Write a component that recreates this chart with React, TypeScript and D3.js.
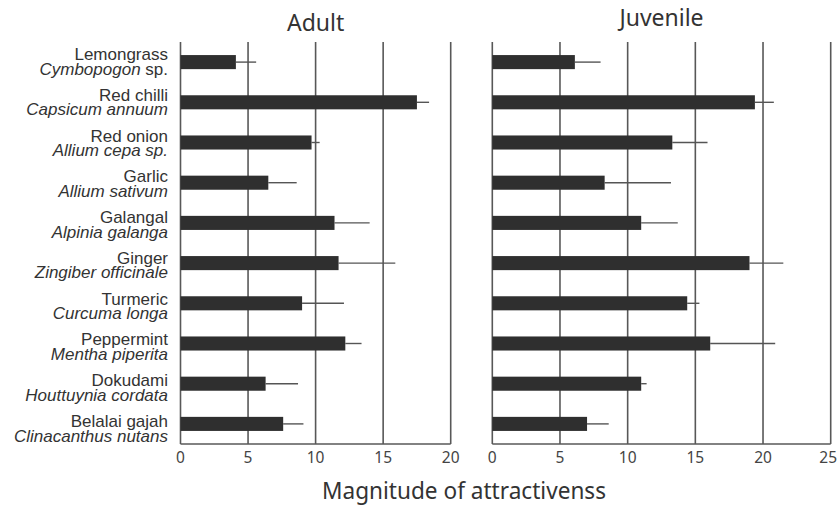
import React from 'react';
import * as d3 from 'd3';

// plant names (common / scientific)
const plants = ['Lemongrass', 'Red chilli', 'Red onion', 'Garlic', 'Galangal', 'Ginger', 'Turmeric', 'Peppermint', 'Dokudami', 'Belalai gajah'];
const species = ['Cymbopogon', 'Capsicum annuum', 'Allium cepa sp.', 'Allium sativum', 'Alpinia galanga', 'Zingiber officinale', 'Curcuma longa', 'Mentha piperita', 'Houttuynia cordata', 'Clinacanthus nutans'];

// values
const adultMean = [4.1, 17.5, 9.7, 6.5, 11.4, 11.7, 9.0, 12.2, 6.3, 7.6];
const adultUpper = [5.6, 18.4, 10.3, 8.6, 14.0, 15.9, 12.1, 13.4, 8.7, 9.1];
const juvMean = [6.1, 19.4, 13.3, 8.3, 11.0, 19.0, 14.4, 16.1, 11.0, 7.0];
const juvUpper = [8.0, 20.8, 15.9, 13.2, 13.7, 21.5, 15.3, 20.9, 11.4, 8.6];

const adultTicks = [0, 5, 10, 15, 20];
const juvTicks = [0, 5, 10, 15, 20, 25];

const TOP = 42;
const BOTTOM = 444;
const WIDTH = 838;

const y = d3.scaleBand<string>().domain(plants).range([TOP, BOTTOM]).paddingInner(0.65).paddingOuter(0.325);
const labelY = d3.scalePoint<string>().domain(plants).range([60, 427]);

const ink = '#2f2f2f';
const gridColor = '#585858';
const tickFont = "'Noto Sans', 'Open Sans', sans-serif";

type PanelProps = {
  title: string;
  titleY: number;
  range: [number, number];
  ticks: number[];
  mean: number[];
  upper: number[];
};

const Panel = ({ title, titleY, range, ticks, mean, upper }: PanelProps) => {
  const x = d3.scaleLinear().domain([0, ticks[ticks.length - 1]]).range(range);
  return (
    <g>
      <text x={(range[0] + range[1]) / 2} y={titleY} textAnchor="middle" fontFamily={tickFont} fontSize={23} fill="#333">{title}</text>
      {/* gridlines */}
      {ticks.map(t => (
        <line key={t} x1={x(t)} x2={x(t)} y1={TOP} y2={BOTTOM} stroke={gridColor} strokeWidth={1.6} />
      ))}
      <line x1={x(0)} x2={x(ticks[ticks.length - 1])} y1={BOTTOM} y2={BOTTOM} stroke={gridColor} strokeWidth={1.6} />
      {ticks.map(t => {
        // keep the last label inside the page, like the reference
        const atEdge = x(t) + 10 > WIDTH;
        return (
          <text key={'l' + t} x={atEdge ? WIDTH - 1 : x(t)} y={463} textAnchor={atEdge ? 'end' : 'middle'} fontFamily={tickFont} fontSize={15.5} fill="#444">{t}</text>
        );
      })}
      {/* error bars, upper side only */}
      {plants.map((p, i) => (
        <line key={'e' + p} x1={x(mean[i])} x2={x(upper[i])} y1={(y(p) as number) + y.bandwidth() / 2} y2={(y(p) as number) + y.bandwidth() / 2} stroke="#555" strokeWidth={1.4} />
      ))}
      {plants.map((p, i) => (
        <rect key={'b' + p} x={x(0)} y={y(p)} width={x(mean[i]) - x(0)} height={y.bandwidth()} fill={ink} />
      ))}
    </g>
  );
};

export default function App() {
  return (
    <svg width={WIDTH} height={506} style={{ position: 'absolute', left: 0, top: 0, background: '#fff' }}>
      <rect width={WIDTH} height={506} fill="#fff" />
      {plants.map((p, i) => (
        <text key={p} x={168} y={labelY(p)} fontFamily="'Liberation Sans', Arial, sans-serif" fontSize={17} fill="#333" textAnchor="end">
          <tspan x={168}>{p}</tspan>
          <tspan x={168} dy={14.5} fontStyle="italic">{species[i]}</tspan>
          {i === 0 ? <tspan> sp.</tspan> : null}
        </text>
      ))}
      <Panel title="Adult" titleY={31} range={[180.5, 450.7]} ticks={adultTicks} mean={adultMean} upper={adultUpper} />
      <Panel title="Juvenile" titleY={25.5} range={[492.3, 830.7]} ticks={juvTicks} mean={juvMean} upper={juvUpper} />
      <text x={464} y={499} textAnchor="middle" fontFamily={tickFont} fontSize={23} fill="#333" textLength={284} lengthAdjust="spacingAndGlyphs">Magnitude of attractivenss</text>
    </svg>
  );
}
